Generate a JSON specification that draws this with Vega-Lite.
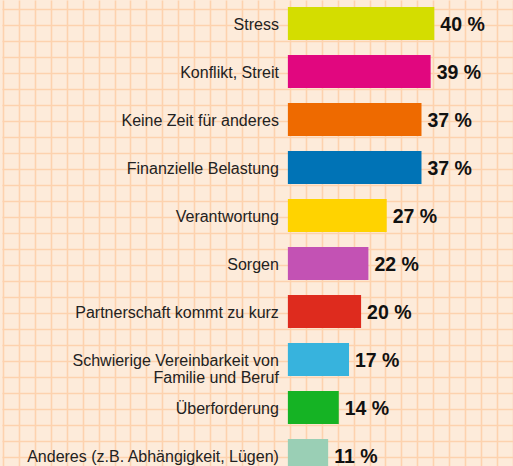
{
  "$schema": "https://vega.github.io/schema/vega-lite/v6.json",
  "width": 513,
  "height": 466,
  "autosize": {"type": "fit", "contains": "padding"},
  "padding": 0,
  "background": "#FDEBDA",
  "config": {"view": {"stroke": null}, "axis": {"minExtent": 0, "maxExtent": 0}},
  "data": {"values": [
    {"cat": "Stress", "label": ["Stress"], "value": 40, "pct": "40 %", "color": "#D4DD00"},
    {"cat": "Konflikt, Streit", "label": ["Konflikt, Streit"], "value": 39, "pct": "39 %", "color": "#E1077F"},
    {"cat": "Keine Zeit für anderes", "label": ["Keine Zeit für anderes"], "value": 36.5, "pct": "37 %", "color": "#EE6A00"},
    {"cat": "Finanzielle Belastung", "label": ["Finanzielle Belastung"], "value": 36.5, "pct": "37 %", "color": "#0073B6"},
    {"cat": "Verantwortung", "label": ["Verantwortung"], "value": 27, "pct": "27 %", "color": "#FFD300"},
    {"cat": "Sorgen", "label": ["Sorgen"], "value": 22, "pct": "22 %", "color": "#C352B4"},
    {"cat": "Partnerschaft kommt zu kurz", "label": ["Partnerschaft kommt zu kurz"], "value": 20, "pct": "20 %", "color": "#DE2B1E"},
    {"cat": "Schwierige Vereinbarkeit von Familie und Beruf", "label": ["Schwierige Vereinbarkeit von", "Familie und Beruf"], "value": 16.7, "pct": "17 %", "color": "#37B3DD"},
    {"cat": "Überforderung", "label": ["Überforderung"], "value": 13.9, "pct": "14 %", "color": "#15B324"},
    {"cat": "Anderes (z.B. Abhängigkeit, Lügen)", "label": ["Anderes (z.B. Abhängigkeit, Lügen)"], "value": 11, "pct": "11 %", "color": "#9ACFB5"}
  ]},
  "layer": [
    {
      "data": {"values": [{}]},
      "mark": {"type": "point", "opacity": 0},
      "encoding": {
        "x": {"datum": 0, "type": "quantitative",
          "scale": {"domain": [-0.0625, 32], "nice": false, "zero": false},
          "axis": {"grid": true, "labels": false, "ticks": false, "domain": false, "title": null, "tickCount": 33, "gridColor": "#FDD2AE", "gridWidth": 1.6, "gridOpacity": 1}},
        "y": {"datum": 0, "type": "quantitative",
          "scale": {"domain": [-0.5625, 28.5625], "nice": false, "zero": false, "reverse": true},
          "axis": {"grid": true, "labels": false, "ticks": false, "domain": false, "title": null, "tickCount": 30, "gridColor": "#FDD2AE", "gridWidth": 1.6, "gridOpacity": 1}}
      }
    },
    {
      "layer": [
        {
          "mark": {"type": "bar", "clip": true},
          "encoding": {
            "color": {"field": "color", "type": "nominal", "scale": null, "legend": null}
          }
        },
        {
          "mark": {"type": "text", "align": "right", "baseline": "middle", "dx": -9, "dy": 1, "font": "Liberation Sans", "fontSize": 16, "lineHeight": 17.5, "color": "#222222", "clip": true},
          "encoding": {"x": {"datum": 0, "type": "quantitative"}, "text": {"field": "label"}}
        },
        {
          "mark": {"type": "text", "align": "left", "baseline": "middle", "dx": 6, "dy": 1, "font": "Liberation Sans", "fontWeight": "bold", "fontSize": 19.5, "color": "#111111", "clip": true},
          "encoding": {"text": {"field": "pct"}}
        }
      ],
      "encoding": {
        "x": {"field": "value", "type": "quantitative",
          "scale": {"domain": [-78.095, 61.497], "nice": false, "zero": false},
          "axis": null},
        "y": {"field": "cat", "type": "nominal", "sort": null,
          "scale": {"range": [7, 472], "paddingInner": 0.3125, "paddingOuter": 0},
          "axis": null}
      }
    }
  ],
  "resolve": {"scale": {"x": "independent", "y": "independent"}}
}
